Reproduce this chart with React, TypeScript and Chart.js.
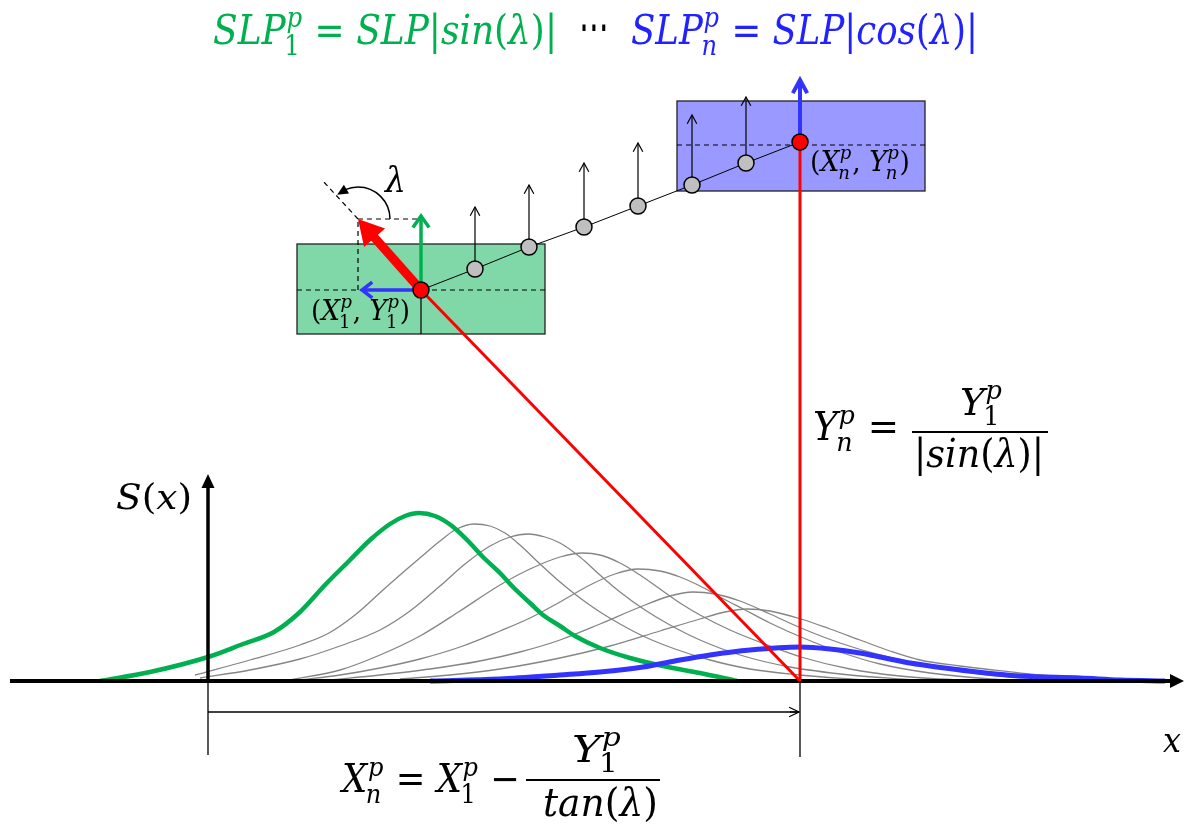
import React, { useEffect, useRef } from 'react';
import { Chart, registerables } from 'chart.js';

Chart.register(...registerables);

// Coordinate system: x = horizontal position, y = height above the x-axis (S = 0) line.
const xRange = [0, 1184];
const yRange = [-151, 681];

// S(x) curves, one per particle: [x, S]
const greenCurve = [[100,0],[150,9],[208,24],[243,37],[274,49],[300,69],[325,96],[350,121],[370,141],[390,157],[405,165],[419,168],[435,165],[452,155],[470,138],[482,125],[500,108],[513,94],[530,78],[543,66],[560,55],[575,45],[600,33],[630,23],[663,15],[700,8],[737,0]];
const grayCurve1 = [[195,6],[250,21],[300,36],[329,48],[355,66],[383,91],[400,106],[421,124],[440,140],[455,151],[474,157],[490,155],[505,148],[520,136],[540,117],[560,99],[580,83],[600,69],[620,57],[645,44],[675,32],[710,21],[750,12],[800,6],[850,2],[880,0]];
const grayCurve2 = [[200,3],[250,11],[300,22],[340,35],[380,51],[410,70],[440,95],[465,117],[490,135],[510,144],[528,147],[545,144],[560,138],[580,124],[600,106],[620,89],[645,71],[670,56],[700,41],[740,26],[790,14],[850,6],[900,2],[930,0]];
const grayCurve3 = [[288,1],[340,11],[380,26],[420,45],[460,70],[500,96],[530,112],[560,124],[583,128],[600,126],[620,118],[640,106],[660,92],[680,78],[700,66],[730,51],[770,35],[801,24],[850,12],[900,5],[960,1],[990,0]];
const grayCurve4 = [[300,1],[340,6],[380,13],[420,22],[460,34],[500,50],[530,63],[560,79],[590,96],[615,107],[638,112],[660,110],[680,104],[700,95],[720,84],[745,71],[770,58],[801,44],[840,29],[880,17],[930,8],[990,2],[1030,0]];
const grayCurve5 = [[330,1],[380,6],[430,12],[480,20],[520,29],[560,41],[600,57],[640,74],[670,85],[693,89],[715,87],[740,80],[770,67],[801,53],[840,38],[880,26],[930,15],[990,6],[1060,1],[1090,0]];
const grayCurve6 = [[400,2],[450,6],[500,12],[560,23],[610,35],[660,50],[700,62],[725,69],[747,72],[770,70],[801,62],[830,52],[860,41],[890,30],[920,21],[960,15],[993,11],[1040,6],[1080,3],[1120,1],[1150,0]];
const blueCurve = [[430,0],[500,2],[560,6],[600,9],[643,14],[680,21],[710,26],[750,31],[800,34],[830,32],[860,28],[885,23],[910,18],[945,13],[977,9],[1020,5],[1080,3],[1120,1],[1165,0]];

// particle chain (first and last are the red particles)
const particleX = [421, 475, 529, 584, 638, 692, 746, 800];
const particleY = [391, 412, 434, 454, 475, 496, 518, 539];
const forceTipY = [474, 496, 518, 538, 566, 584];

// geometry of the construction
const sAxisX = 208;
const sAxisTop = 207;
const xAxisStart = 10;
const xAxisEnd = 1184;
const dimLineY = -31;
const dimLeftBottom = -74;
const dimRightBottom = -76;
const greenBox = { x1: 297, x2: 545, top: 437, bottom: 347 };
const blueBox = { x1: 677, x2: 925, top: 580, bottom: 490 };
const blueMidY = 536;
const projCorner = { x: 358, y: 462 };
const dashedRayEnd = { x: 322, y: 501 };
const greenArrowTipY = 465;
const blueLeftTipX = 362;
const blueUpTipY = 601;
const lambdaArcR = 32;

const GREEN = '#00B050';
const BLUE = '#3333FF';
const BLUE_TEXT = '#2222FF';
const RED = '#FF0000';
const SERIF = "'DejaVu Serif', 'Liberation Serif', serif";

type Part = { t: string; it?: boolean; sup?: string; sub?: string; fam?: string };

const titleGreen: Part[] = [
  { t: 'SLP', it: true, sup: 'p', sub: '1' }, { t: ' = ' }, { t: 'SLP', it: true }, { t: '|' },
  { t: 'sin', it: true }, { t: '(' }, { t: 'λ', it: true }, { t: ')|' },
];
const titleDots: Part[] = [{ t: '⋯', fam: "'DejaVu Sans', sans-serif" }];
const titleBlue: Part[] = [
  { t: 'SLP', it: true, sup: 'p', sub: 'n' }, { t: ' = ' }, { t: 'SLP', it: true }, { t: '|' },
  { t: 'cos', it: true }, { t: '(' }, { t: 'λ', it: true }, { t: ')|' },
];
const lambdaLabel: Part[] = [{ t: 'λ', it: true }];
const firstLabel: Part[] = [{ t: '(' }, { t: 'X', it: true, sup: 'p', sub: '1' }, { t: ', ' }, { t: 'Y', it: true, sup: 'p', sub: '1' }, { t: ')' }];
const lastLabel: Part[] = [{ t: '(' }, { t: 'X', it: true, sup: 'p', sub: 'n' }, { t: ', ' }, { t: 'Y', it: true, sup: 'p', sub: 'n' }, { t: ')' }];
const sLabel: Part[] = [{ t: 'S', it: true }, { t: '(' }, { t: 'x', it: true }, { t: ')' }];
const xLabel: Part[] = [{ t: 'x', it: true }];
const ynLeft: Part[] = [{ t: 'Y', it: true, sup: 'p', sub: 'n' }, { t: ' =' }];
const y1Num: Part[] = [{ t: 'Y', it: true, sup: 'p', sub: '1' }];
const sinDen: Part[] = [{ t: '|' }, { t: 'sin', it: true }, { t: '(' }, { t: 'λ', it: true }, { t: ')|' }];
const xnLeft: Part[] = [{ t: 'X', it: true, sup: 'p', sub: 'n' }, { t: ' = ' }, { t: 'X', it: true, sup: 'p', sub: '1' }, { t: ' −' }];
const tanDen: Part[] = [{ t: 'tan', it: true }, { t: '(' }, { t: 'λ', it: true }, { t: ')' }];

// [parts, x, baseline y, font size, width, colour]
const textItems: [Part[], number, number, number, number, string][] = [
  [titleGreen, 213, 637, 41, 344, GREEN],
  [titleDots, 579, 637, 52, 30, '#000'],
  [titleBlue, 631, 637, 41, 347, BLUE_TEXT],
  [lambdaLabel, 385, 489, 36, 21, '#000'],
  [firstLabel, 311, 361, 28, 99, '#000'],
  [lastLabel, 810, 510, 28, 100, '#000'],
  [sLabel, 116, 172, 36, 76, '#000'],
  [xLabel, 1163, -71, 36, 18, '#000'],
  [ynLeft, 813, 241, 39, 86, '#000'],
  [y1Num, 960, 266, 38, 43, '#000'],
  [sinDen, 914, 214, 39, 130, '#000'],
  [xnLeft, 342, -111, 39, 178, '#000'],
  [y1Num, 572, -81, 38, 50, '#000'],
  [tanDen, 543, -135, 39, 115, '#000'],
];
// fraction bars: [x1, x2, y]
const fractionBars = [[912, 1048, 249], [526, 660, -99]];

const isLetter = (s: string) => /[A-Za-z]/.test(s);
const fontStr = (size: number, it: boolean, fam = SERIF) => `${it ? 'italic ' : ''}${size}px ${fam}`;

function layoutMath(ctx: CanvasRenderingContext2D, parts: Part[], size: number, draw: boolean) {
  let x = 0;
  for (const p of parts) {
    ctx.font = fontStr(size, !!p.it, p.fam);
    if (draw) ctx.fillText(p.t, x, 0);
    x += ctx.measureText(p.t).width;
    if (p.sup || p.sub) {
      const s = size * 0.68;
      let w = 0;
      if (p.sup) {
        ctx.font = fontStr(s, isLetter(p.sup));
        if (draw) ctx.fillText(p.sup, x + size * 0.02, -size * 0.42);
        w = Math.max(w, ctx.measureText(p.sup).width + size * 0.02);
      }
      if (p.sub) {
        ctx.font = fontStr(s, isLetter(p.sub));
        if (draw) ctx.fillText(p.sub, x - size * 0.04, size * 0.27);
        w = Math.max(w, ctx.measureText(p.sub).width - size * 0.04);
      }
      x += w + size * 0.03;
    }
  }
  return x;
}

function drawMath(ctx: CanvasRenderingContext2D, parts: Part[], x: number, y: number, size: number, color: string, width: number) {
  ctx.save();
  ctx.textBaseline = 'alphabetic';
  ctx.textAlign = 'left';
  const nat = layoutMath(ctx, parts, size, false);
  ctx.translate(x, y);
  ctx.scale(width / nat, 1);
  ctx.fillStyle = color;
  layoutMath(ctx, parts, size, true);
  ctx.restore();
}

function line(ctx: CanvasRenderingContext2D, x1: number, y1: number, x2: number, y2: number) {
  ctx.beginPath();
  ctx.moveTo(x1, y1);
  ctx.lineTo(x2, y2);
  ctx.stroke();
}

function openArrow(ctx: CanvasRenderingContext2D, x1: number, y1: number, x2: number, y2: number, color: string, w: number, head: number, ang: number) {
  ctx.save();
  ctx.strokeStyle = color;
  ctx.lineWidth = w;
  ctx.lineCap = 'butt';
  ctx.lineJoin = 'miter';
  line(ctx, x1, y1, x2, y2);
  const a = Math.atan2(y2 - y1, x2 - x1);
  ctx.beginPath();
  ctx.moveTo(x2 - head * Math.cos(a - ang), y2 - head * Math.sin(a - ang));
  ctx.lineTo(x2, y2);
  ctx.lineTo(x2 - head * Math.cos(a + ang), y2 - head * Math.sin(a + ang));
  ctx.stroke();
  ctx.restore();
}

function filledHead(ctx: CanvasRenderingContext2D, bx: number, by: number, tx: number, ty: number, half: number, color: string) {
  const a = Math.atan2(ty - by, tx - bx);
  const nx = -Math.sin(a), ny = Math.cos(a);
  ctx.save();
  ctx.fillStyle = color;
  ctx.beginPath();
  ctx.moveTo(tx, ty);
  ctx.lineTo(bx + nx * half, by + ny * half);
  ctx.lineTo(bx - nx * half, by - ny * half);
  ctx.closePath();
  ctx.fill();
  ctx.restore();
}

const pts = (a: number[][]) => a.map(([x, y]) => ({ x, y }));

export default function App() {
  const ref = useRef<HTMLCanvasElement>(null);

  useEffect(() => {
    const canvas = ref.current;
    if (!canvas) return;

    const seg = (a: number[], b: number[], color: string, width: number) => ({
      data: [{ x: a[0], y: a[1] }, { x: b[0], y: b[1] }],
      showLine: true, borderColor: color, borderWidth: width, pointRadius: 0, borderCapStyle: 'butt',
    });
    const grayStyle = { showLine: true, borderColor: '#858585', borderWidth: 1.3, pointRadius: 0, cubicInterpolationMode: 'monotone' };
    const grays = [grayCurve1, grayCurve2, grayCurve3, grayCurve4, grayCurve5, grayCurve6];

    const datasets: any[] = [
      ...grays.map((g) => ({ data: pts(g), ...grayStyle, order: 20 })),
      { data: pts(greenCurve), showLine: true, borderColor: GREEN, borderWidth: 4.5, pointRadius: 0, cubicInterpolationMode: 'monotone', order: 19 },
      { data: pts(blueCurve), showLine: true, borderColor: BLUE, borderWidth: 5, pointRadius: 0, cubicInterpolationMode: 'monotone', order: 18 },
      { ...seg([xAxisStart, 0], [xAxisEnd - 12, 0], '#000', 4), order: 17 },
      { ...seg([sAxisX, 0], [sAxisX, sAxisTop - 12], '#000', 3.5), order: 17 },
      { ...seg([sAxisX, 0], [sAxisX, dimLeftBottom], '#000', 1.3), order: 17 },
      { ...seg([particleX[7], 0], [particleX[7], dimRightBottom], '#000', 1.3), order: 17 },
      { ...seg([sAxisX, dimLineY], [particleX[7] - 1, dimLineY], '#000', 1.3), order: 17 },
      { ...seg([particleX[0], particleY[0]], [particleX[7], 0], RED, 3), order: 15 },
      { ...seg([particleX[7], particleY[7]], [particleX[7], 0], RED, 3), order: 15 },
    ];
    const chainIndex = datasets.length;
    datasets.push({
      data: particleX.map((x, i) => ({ x, y: particleY[i] })),
      showLine: true, borderColor: '#000', borderWidth: 1,
      pointRadius: 8, pointHoverRadius: 8,
      pointBackgroundColor: particleX.map((_, i) => (i === 0 || i === particleX.length - 1 ? RED : '#BFBFBF')),
      pointBorderColor: '#000', pointBorderWidth: 1.5, order: 0,
    });

    const diagram = {
      id: 'diagram',
      beforeDatasetsDraw(chart: any) {
        const ctx: CanvasRenderingContext2D = chart.ctx;
        const X = (v: number) => chart.scales.x.getPixelForValue(v);
        const Y = (v: number) => chart.scales.y.getPixelForValue(v);
        ctx.save();
        const boxes: [typeof greenBox, string][] = [[greenBox, 'rgb(128,216,168)'], [blueBox, 'rgb(153,153,255)']];
        for (const [b, fill] of boxes) {
          const x1 = X(b.x1), x2 = X(b.x2), y1 = Y(b.top), y2 = Y(b.bottom);
          ctx.fillStyle = fill;
          ctx.fillRect(x1, y1, x2 - x1, y2 - y1);
          ctx.strokeStyle = '#222';
          ctx.lineWidth = 1.3;
          ctx.strokeRect(x1, y1, x2 - x1, y2 - y1);
        }
        ctx.strokeStyle = '#000';
        ctx.lineWidth = 1.2;
        ctx.setLineDash([5, 4]);
        line(ctx, X(greenBox.x1), Y(particleY[0]), X(greenBox.x2), Y(particleY[0]));
        line(ctx, X(blueBox.x1), Y(blueMidY), X(blueBox.x2), Y(blueMidY));
        line(ctx, X(projCorner.x), Y(particleY[0]), X(projCorner.x), Y(projCorner.y));
        line(ctx, X(projCorner.x), Y(projCorner.y), X(particleX[0]), Y(projCorner.y));
        line(ctx, X(projCorner.x), Y(projCorner.y), X(dashedRayEnd.x), Y(dashedRayEnd.y));
        ctx.setLineDash([]);
        line(ctx, X(particleX[0]), Y(particleY[0]), X(particleX[0]), Y(greenBox.bottom));
        // lambda arc
        const cx = X(projCorner.x), cy = Y(projCorner.y);
        ctx.lineWidth = 1.5;
        ctx.beginPath();
        ctx.arc(cx, cy, lambdaArcR, 0, -1.98, true);
        ctx.stroke();
        const tA = -2.28, bA = -1.94;
        filledHead(ctx, cx + lambdaArcR * Math.cos(bA), cy + lambdaArcR * Math.sin(bA), cx + lambdaArcR * Math.cos(tA), cy + lambdaArcR * Math.sin(tA), 5, '#000');
        ctx.restore();
      },
      beforeDatasetDraw(chart: any, args: any) {
        if (args.index !== chainIndex) return;
        const ctx: CanvasRenderingContext2D = chart.ctx;
        const X = (v: number) => chart.scales.x.getPixelForValue(v);
        const Y = (v: number) => chart.scales.y.getPixelForValue(v);
        for (let i = 1; i < particleX.length - 1; i++) {
          openArrow(ctx, X(particleX[i]), Y(particleY[i]), X(particleX[i]), Y(forceTipY[i - 1]), '#000', 1.2, 10, 0.5);
        }
        const x0 = X(particleX[0]), y0 = Y(particleY[0]);
        openArrow(ctx, x0, y0, x0, Y(greenArrowTipY), GREEN, 3.5, 14, 0.62);
        openArrow(ctx, x0, y0, X(blueLeftTipX), y0, BLUE, 3.5, 13, 0.66);
        const xn = X(particleX[7]), yn = Y(particleY[7]);
        openArrow(ctx, xn, yn, xn, Y(blueUpTipY), BLUE, 4, 15, 0.5);
        // thick red arrow
        const tx = X(projCorner.x), ty = Y(projCorner.y);
        const L = Math.hypot(tx - x0, ty - y0);
        const ux = (tx - x0) / L, uy = (ty - y0) / L;
        const bx = tx - ux * 25, by = ty - uy * 25;
        ctx.save();
        ctx.strokeStyle = RED;
        ctx.lineWidth = 9;
        ctx.lineCap = 'butt';
        line(ctx, x0, y0, bx + ux * 2, by + uy * 2);
        ctx.restore();
        filledHead(ctx, bx, by, tx, ty, 14, RED);
      },
      afterDatasetsDraw(chart: any) {
        const ctx: CanvasRenderingContext2D = chart.ctx;
        const X = (v: number) => chart.scales.x.getPixelForValue(v);
        const Y = (v: number) => chart.scales.y.getPixelForValue(v);
        // axis arrowheads
        filledHead(ctx, X(xAxisEnd - 14), Y(0), X(xAxisEnd), Y(0), 7, '#000');
        filledHead(ctx, X(sAxisX), Y(sAxisTop - 14), X(sAxisX), Y(sAxisTop), 6.5, '#000');
        // dimension arrow head
        openArrow(ctx, X(particleX[7] - 10), Y(dimLineY), X(particleX[7] - 1), Y(dimLineY), '#000', 1.3, 11, 0.45);
        // fraction bars
        ctx.save();
        ctx.strokeStyle = '#000';
        ctx.lineWidth = 2;
        for (const [a, b, y] of fractionBars) line(ctx, X(a), Y(y), X(b), Y(y));
        ctx.restore();
        for (const [parts, x, y, size, w, color] of textItems) {
          drawMath(ctx, parts, X(x), Y(y), size, color, w);
        }
      },
    };

    const chart = new Chart(canvas, {
      type: 'scatter',
      data: { datasets },
      options: {
        responsive: false,
        maintainAspectRatio: false,
        animation: false,
        devicePixelRatio: 1,
        events: [],
        layout: { padding: 0, autoPadding: false },
        plugins: { legend: { display: false }, tooltip: { enabled: false }, title: { display: false } },
        scales: {
          x: { type: 'linear', min: xRange[0], max: xRange[1], display: false },
          y: { type: 'linear', min: yRange[0], max: yRange[1], display: false },
        },
      },
      plugins: [diagram],
    } as any);

    return () => chart.destroy();
  }, []);

  return (
    <div style={{ position: 'absolute', left: 0, top: 0, width: 1184, height: 832, background: '#fff' }}>
      <canvas ref={ref} width={1184} height={832} style={{ display: 'block' }} />
    </div>
  );
}
